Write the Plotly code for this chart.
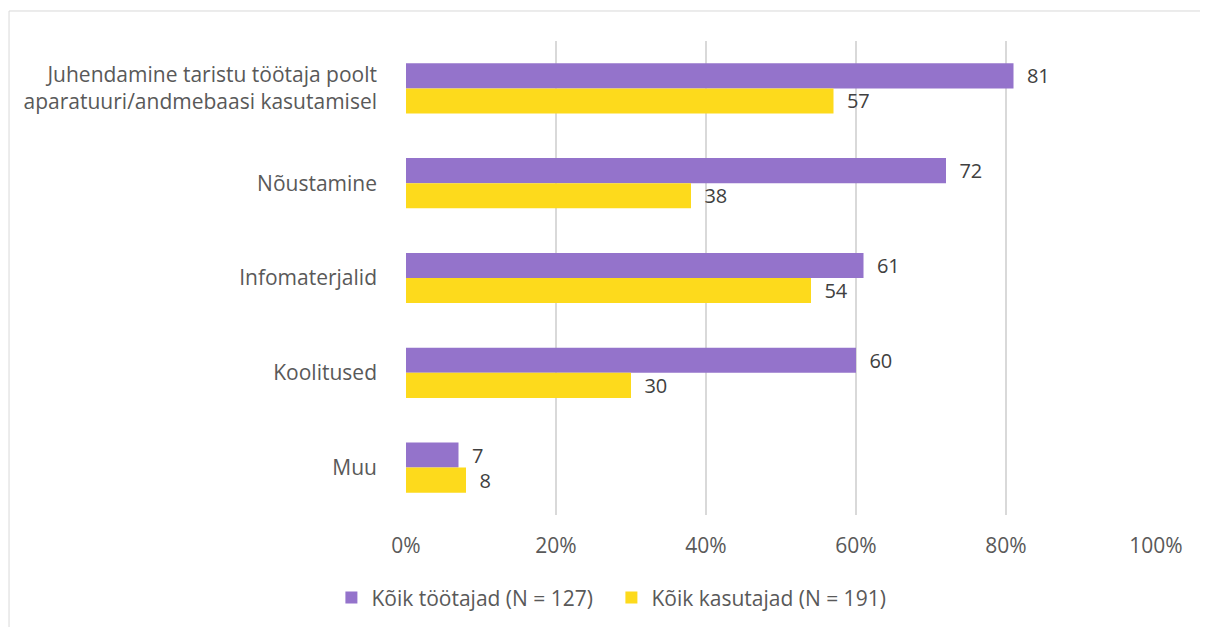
import plotly.graph_objects as go

categories = [
    "Juhendamine taristu töötaja poolt<br>aparatuuri/andmebaasi kasutamisel",
    "Nõustamine",
    "Infomaterjalid",
    "Koolitused",
    "Muu",
]
tootajad = [81, 72, 61, 60, 7]
kasutajad = [57, 38, 54, 30, 8]
series_names = ["Kõik töötajad (N = 127)", "Kõik kasutajad (N = 191)"]
x_ticks = [0, 20, 40, 60, 80, 100]
x_tick_labels = ["0%", "20%", "40%", "60%", "80%", "100%"]

FONT = "'Open Sans', Lato, sans-serif"
colors = ["#9473CB", "#FDDA1C"]

fig = go.Figure()
for name, vals, col in zip(series_names, [tootajad, kasutajad], colors):
    fig.add_trace(go.Bar(
        y=categories, x=vals, orientation="h", name=name,
        marker=dict(color=col, line=dict(width=0)),
        text=[str(v) for v in vals], texttemplate="  %{text}", textposition="outside",
        textfont=dict(size=20, color="#404040", family=FONT),
        constraintext="none", cliponaxis=False,
    ))

fig.update_layout(
    width=1200, height=619,
    margin=dict(l=398, r=52, t=33, b=112, autoexpand=False),
    paper_bgcolor="white", plot_bgcolor="white",
    barmode="group", bargap=0.47, bargroupgap=0,
    font=dict(family=FONT, size=21, color="#595959"),
    showlegend=True,
    legend=dict(orientation="h", xref="container", x=0.2695, xanchor="left",
                yref="container", y=0.047, yanchor="middle",
                font=dict(size=21, color="#595959"), itemwidth=30,
                entrywidth=235, traceorder="normal"),
    xaxis=dict(range=[0, 100], tickvals=x_ticks, ticktext=x_tick_labels,
               showgrid=True, gridcolor="#D9D9D9", gridwidth=1.5,
               zeroline=False, showline=False, ticks="", automargin=False,
               ticklabelstandoff=16, tickfont=dict(size=21)),
    yaxis=dict(autorange="reversed", showgrid=False, zeroline=False,
               showline=False, ticks="", ticklabelstandoff=28, automargin=False,
               tickfont=dict(size=21)),
    shapes=[dict(type="rect", xref="paper", yref="paper",
                 x0=-0.5293, x1=1.6, y0=-0.6, y1=1.0633,
                 line=dict(color="#D9D9D9", width=1), layer="below")],
)

fig.write_html("out.html")
